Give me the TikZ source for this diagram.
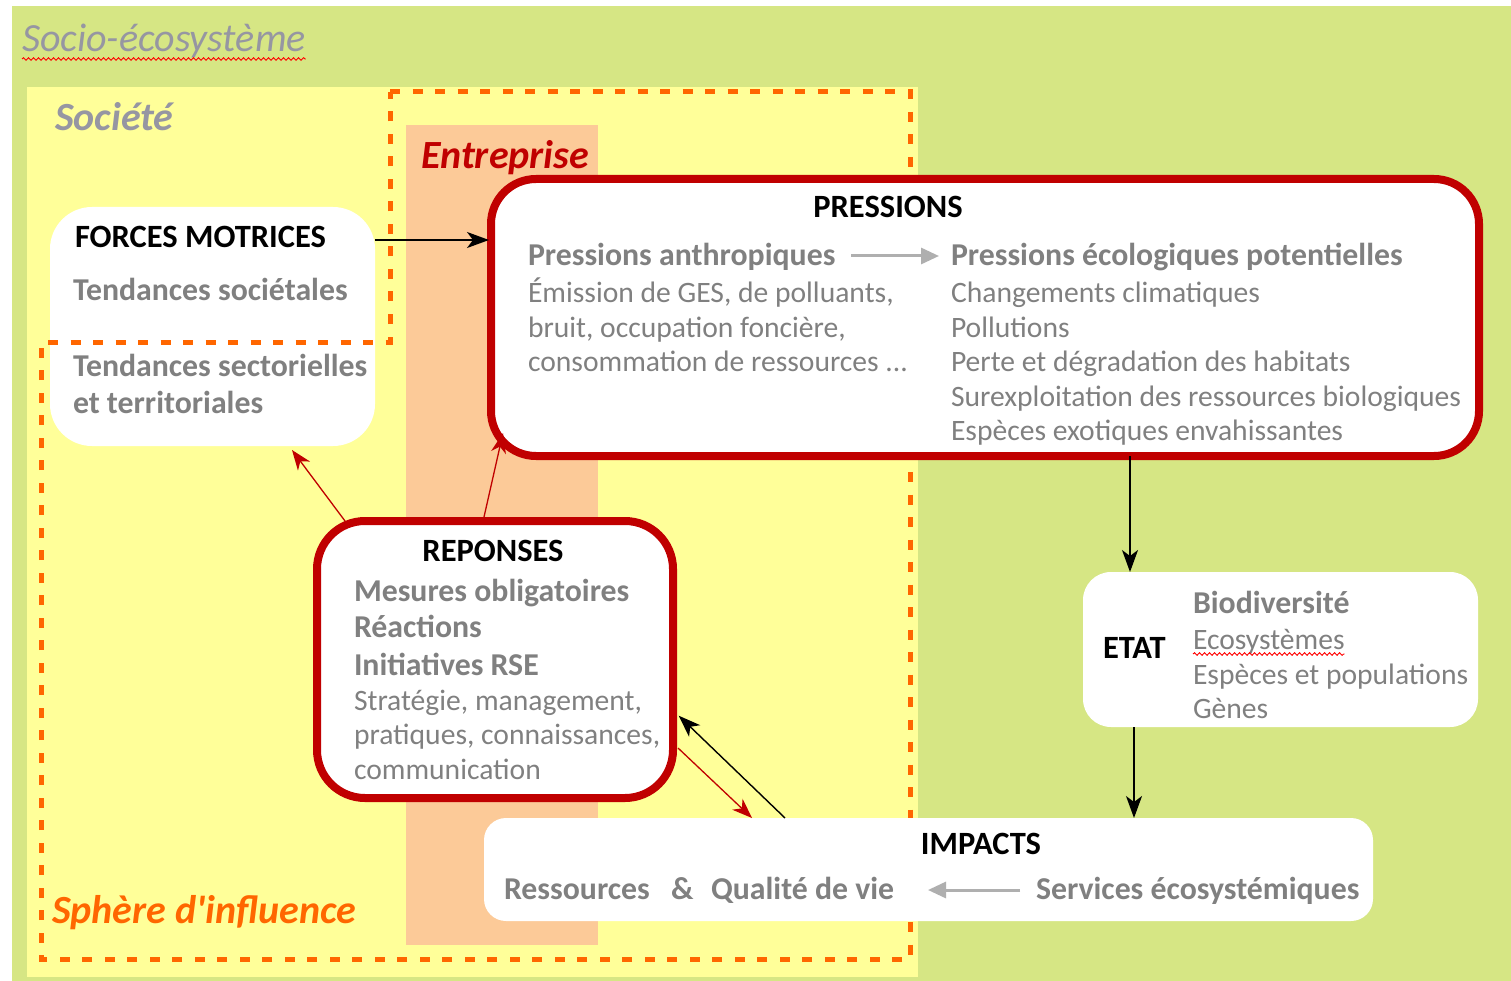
\documentclass[tikz,border=0pt]{standalone}
\usepackage{fontspec}
\setmainfont{Carlito}
\usetikzlibrary{arrows.meta,decorations.pathmorphing,calc}
\definecolor{bggreen}{RGB}{214,230,132}
\definecolor{socyel}{RGB}{255,255,153}
\definecolor{peach}{RGB}{252,202,152}
\definecolor{dashor}{RGB}{255,102,0}
\definecolor{dkred}{RGB}{192,0,0}
\definecolor{txtgray}{RGB}{128,128,128}
\definecolor{titgray}{RGB}{150,150,162}
\definecolor{lgray}{RGB}{175,175,175}
\newcommand\szhd{\fontsize{32.5}{38}\selectfont}
\newcommand\szsub{\fontsize{31.8}{37}\selectfont}
\newcommand\sztxt{\fontsize{29.6}{35}\selectfont}
\newcommand\sztit{\fontsize{40}{46}\selectfont}
\begin{document}
\begin{tikzpicture}[x=1pt,y=-1pt,
  box/.style={fill=white, rounded corners=#1, inner sep=0pt, outer sep=0pt},
  box/.default=40pt,
  redbox/.style={draw=dkred, line width=8pt},
  lbl/.style={inner sep=0pt, outer sep=0pt, anchor=base west},
  hd/.style={lbl, font=\szhd\bfseries, text=black},
  sub/.style={lbl, font=\szsub\bfseries, text=txtgray},
  txt/.style={lbl, font=\sztxt, text=txtgray},
  blkarr/.style={draw=black, line width=1.4pt, -{Stealth[length=22pt,width=16pt,inset=6pt]}},
  redarr/.style={draw=dkred, line width=1.3pt, -{Stealth[length=20pt,width=15pt,inset=6pt]}},
  grayarr/.style={draw=lgray, line width=3pt, -{Triangle[length=18pt,width=16pt]}},
  wavy/.style={draw=red, line width=0.9pt, decorate, decoration={snake, amplitude=1.3pt, segment length=5pt}},
]
\useasboundingbox (0,0) rectangle (1511,981);
\fill[white] (0,0) rectangle (1511,981);
\fill[bggreen] (12,6) rectangle (1511,981);
\fill[socyel] (27,87) rectangle (918,977);
\fill[peach] (406,125) rectangle (598,945);

% forces box (under the dashed line)
\node[box=42pt, minimum width=325pt, minimum height=239pt] (forces) at (212.5,326.5) {};

\draw[dashor, line width=5pt, dash pattern=on 10pt off 12.5pt]
  (390,92) -- (910,92) -- (910,959) -- (41,959) -- (41,342) -- (390,342) -- cycle;

% titles
\node[lbl, font=\sztit\itshape, text=titgray] (socio) at (22,52) {Socio-écosystème};
\draw[wavy] ([yshift=-7pt]socio.base west) -- ([yshift=-7pt]socio.base east);
\node[lbl, font=\sztit\bfseries\itshape, text=titgray] (societe) at (55,131) {Société};
\node[lbl, font=\sztit\bfseries\itshape, text=dkred] (entreprise) at (421,169) {Entreprise};
\node[lbl, font=\sztit\bfseries\itshape, text=dashor] (sphere) at (52,923) {Sphère d\textquotesingle influence};

% boxes
\node[box=45pt, redbox, minimum width=988pt, minimum height=277pt] (press) at (985,317.5) {};
\node[box=48pt, redbox, minimum width=356pt, minimum height=277pt] (reponses) at (495,659.5) {};
\node[box=28pt, minimum width=395pt, minimum height=155pt] (etat) at (1280.5,649.5) {};
\node[box=22pt, minimum width=889pt, minimum height=103pt] (impacts) at (928.5,869.5) {};

% forces motrices
\node[hd] (fmt) at (75,248) {FORCES MOTRICES};
\node[sub] (fm1) at (73,301) {Tendances sociétales};
\node[sub] (fm2) at (73,376) {Tendances sectorielles};
\node[sub] (fm3) at (73,413) {et territoriales};

% pressions
\node[hd, anchor=base] (pt) at (888,218) {PRESSIONS};
\node[sub] (pa) at (528,266) {Pressions anthropiques};
\node[sub] (pe) at (951,266) {Pressions écologiques potentielles};
\draw[grayarr] ($(pa.base east)+(16,-10)$) -- ($(pe.base west)+(-12,-10)$);
\node[txt] (pa1) at (528,302) {Émission de GES, de polluants,};
\node[txt] (pa2) at (528,337) {bruit, occupation foncière,};
\node[txt] (pa3) at (528,371) {consommation de ressources ...};
\node[txt] (pe1) at (951,302) {Changements climatiques};
\node[txt] (pe2) at (951,337) {Pollutions};
\node[txt] (pe3) at (951,371) {Perte et dégradation des habitats};
\node[txt] (pe4) at (951,406) {Surexploitation des ressources biologiques};
\node[txt] (pe5) at (951,440) {Espèces exotiques envahissantes};

% reponses
\node[hd, anchor=base] (rt) at (493,561) {REPONSES};
\node[sub] (r1) at (354,601) {Mesures obligatoires};
\node[sub] (r2) at (354,637) {Réactions};
\node[sub] (r3) at (354,675) {Initiatives RSE};
\node[txt] (r4) at (354,710) {Stratégie, management,};
\node[txt] (r5) at (354,744) {pratiques, connaissances,};
\node[txt] (r6) at (354,779) {communication};

% etat
\node[hd] (et) at (1103,658) {ETAT};
\node[sub] (e1) at (1193,613) {Biodiversité};
\node[txt] (e2) at (1193,649) {Ecosystèmes};
\draw[wavy] ([yshift=-5pt]e2.base west) -- ([yshift=-5pt]e2.base east);
\node[txt] (e3) at (1193,684) {Espèces et populations};
\node[txt] (e4) at (1193,718) {Gènes};

% impacts
\node[hd, anchor=base] (it) at (981,854) {IMPACTS};
\node[sub] (i1) at (504,899) {Ressources};
\node[sub] (i2) at (671,899) {\&};
\node[sub] (i3) at (711,899) {Qualité de vie};
\node[sub] (i4) at (1036,899) {Services écosystémiques};
\draw[grayarr] ($(i4.base west)+(-16,-9)$) -- (928,890);

% connectors
\draw[blkarr, shorten >=2pt] (forces.east |- 0,240) -- (press.west |- 0,240);
\draw[blkarr] (press.south -| 1130,0) -- (etat.north -| 1130,0);
\draw[blkarr] (etat.south -| 1134,0) -- (impacts.north -| 1134,0);
\draw[blkarr, shorten >=1pt] (impacts.north -| 785,0) -- ($(reponses.east |- 0,715)+(5,0)$);
\draw[redarr] ($(reponses.east |- 0,748)+(5,0)$) -- (impacts.north -| 752,0);
\draw[redarr] (reponses.north -| 345,0) -- ($(forces.south -| 292,0)+(0,4)$);
\draw[redarr] ($(reponses.north -| 484,0)+(0,-4)$) -- ($(press.south west)+(12,-23)$);
\end{tikzpicture}
\end{document}
